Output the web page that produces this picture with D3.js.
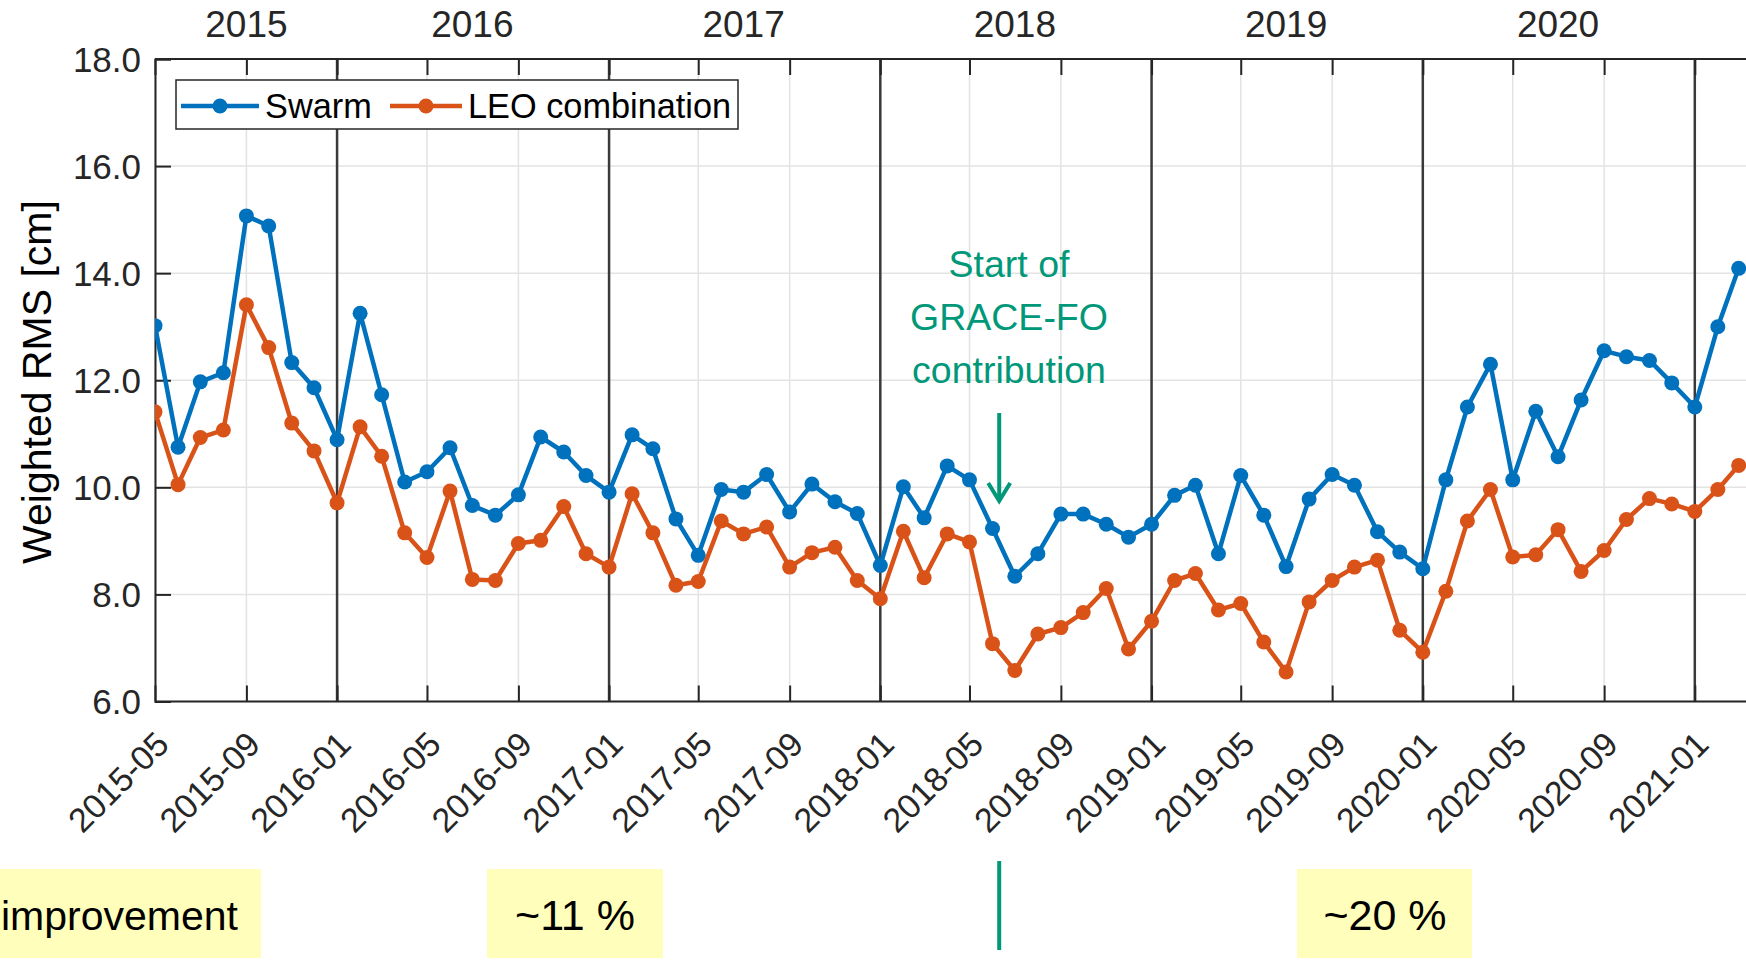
<!DOCTYPE html>
<html>
<head>
<meta charset="utf-8">
<script src="https://cdn.jsdelivr.net/npm/d3@7"></script>
<style>
  body { margin: 0; background: #fff; }
  text { font-family: "Liberation Sans", Arial, sans-serif; }
</style>
</head>
<body>
<script>
// datos (RMS ponderado en cm, un valor por mes)
var swarm = [13.02, 10.75, 11.97, 12.14, 15.07, 14.88, 12.33, 11.86,
  10.89, 13.25, 11.73, 10.10, 10.29, 10.74, 9.66, 9.48, 9.86, 10.94, 10.66, 10.22,
  9.91, 10.98, 10.72, 9.41, 8.73, 9.96, 9.91, 10.24, 9.54, 10.06, 9.73, 9.51,
  8.54, 10.01, 9.43, 10.40, 10.14, 9.23, 8.34, 8.76, 9.50, 9.50, 9.31, 9.07,
  9.31, 9.85, 10.04, 8.76, 10.22, 9.48, 8.52, 9.78, 10.24, 10.04, 9.17, 8.79,
  8.48, 10.14, 11.50, 12.30, 10.14, 11.42, 10.57, 11.63, 12.55, 12.44, 12.37, 11.95,
  11.50, 13.00, 14.09]

var leo = [11.41, 10.05, 10.93, 11.07, 13.41, 12.61, 11.20, 10.68,
  9.71, 11.13, 10.58, 9.15, 8.69, 9.93, 8.28, 8.26, 8.95, 9.01, 9.64, 8.76,
  8.51, 9.88, 9.15, 8.17, 8.24, 9.37, 9.13, 9.26, 8.51, 8.78, 8.88, 8.26,
  7.92, 9.18, 8.31, 9.13, 8.98, 7.08, 6.58, 7.26, 7.38, 7.66, 8.11, 6.98,
  7.50, 8.26, 8.39, 7.71, 7.83, 7.11, 6.55, 7.86, 8.26, 8.51, 8.64, 7.33,
  6.92, 8.06, 9.37, 9.96, 8.70, 8.74, 9.21, 8.43, 8.82, 9.40, 9.79, 9.69,
  9.55, 9.96, 10.41]

var meses = d3.timeMonth.range(new Date(2015, 4, 1), new Date(2021, 3, 1))
var yTicks = [6, 8, 10, 12, 14, 16, 18]
var anios = ["2015", "2016", "2017", "2018", "2019", "2020"]
var aniosPos = [new Date(2015, 8, 1), new Date(2016, 6, 1), new Date(2017, 6, 1),
  new Date(2018, 6, 1), new Date(2019, 6, 1), new Date(2020, 6, 1)]
var series = [
  {nombre: "Swarm", valores: swarm, color: "#0072BD"},
  {nombre: "LEO combination", valores: leo, color: "#D95319"}
]
var notaGrace = ["Start of", "GRACE-FO", "contribution"]
var fechaGrace = new Date(2018, 5, 10)
var cajas = [
  {texto: "improvement", x0: -10, x1: 261, ancla: "start", tx: 1, fs: 41},
  {texto: "~11 %", x0: 487, x1: 663, ancla: "middle", tx: 575, fs: 43},
  {texto: "~20 %", x0: 1297, x1: 1472, ancla: "middle", tx: 1385, fs: 43}
]

var width = 1746
var height = 961
var margin = {top: 59, bottom: 701.5, left: 155, right: 1746}
var verdeAnot = "#009879"
var ejeColor = "#262626"

var escalaX = d3.scaleTime()
  .domain([new Date(2015, 4, 1), new Date(2021, 0, 1)])
  .range([margin.left, 1694.8])

var escalaY = d3.scaleLinear()
  .domain([6, 18])
  .range([margin.bottom, margin.top])

var svg = d3.select("body").append("svg")
  .attr("width", width)
  .attr("height", height)

svg.append("clipPath").attr("id", "clip")
  .append("rect")
  .attr("x", margin.left).attr("y", margin.top - 10)
  .attr("width", width - margin.left + 20)
  .attr("height", margin.bottom - margin.top + 20)

var finX = escalaX.invert(width + 5)
var ticksMes = d3.timeMonth.every(4).range(new Date(2015, 4, 1), finX)
var lineasAnio = d3.timeYear.range(new Date(2015, 4, 1), finX)

// rejilla
var rejilla = svg.append("g")
rejilla.selectAll(".gv").data(ticksMes).enter().append("line")
  .attr("x1", d => escalaX(d)).attr("x2", d => escalaX(d))
  .attr("y1", margin.top).attr("y2", margin.bottom)
  .attr("stroke", "#e3e3e3").attr("stroke-width", 1.5)
rejilla.selectAll(".gh").data(yTicks).enter().append("line")
  .attr("x1", margin.left).attr("x2", width)
  .attr("y1", d => escalaY(d)).attr("y2", d => escalaY(d))
  .attr("stroke", "#e3e3e3").attr("stroke-width", 1.5)

// lineas de año
svg.append("g").selectAll("line").data(lineasAnio).enter().append("line")
  .attr("x1", d => escalaX(d)).attr("x2", d => escalaX(d))
  .attr("y1", margin.top).attr("y2", margin.bottom)
  .attr("stroke", "#3a3a3a").attr("stroke-width", 2.5)

// eje Y
var ejeY = d3.axisRight(escalaY).tickValues(yTicks).tickFormat(d3.format(".1f")).tickSize(16)
var gY = svg.append("g")
  .attr("transform", "translate(" + margin.left + ",0)")
  .call(ejeY)
gY.selectAll("text").remove()
gY.selectAll("line").attr("stroke", ejeColor).attr("stroke-width", 2)
gY.select(".domain").attr("stroke", ejeColor).attr("stroke-width", 2)
svg.append("g").selectAll("text").data(yTicks).enter().append("text")
  .attr("x", 141).attr("y", d => escalaY(d) + 12.5)
  .attr("text-anchor", "end")
  .attr("font-size", 35).attr("fill", ejeColor)
  .text(d => d3.format(".1f")(d))

// eje X abajo
var ejeX = d3.axisTop(escalaX).tickValues(ticksMes).tickSize(16).tickFormat("")
var gX = svg.append("g")
  .attr("transform", "translate(0," + margin.bottom + ")")
  .call(ejeX)
gX.select(".domain").remove()
gX.selectAll("line").attr("stroke", ejeColor).attr("stroke-width", 2)
svg.append("line")
  .attr("x1", margin.left).attr("x2", width)
  .attr("y1", margin.bottom).attr("y2", margin.bottom)
  .attr("stroke", ejeColor).attr("stroke-width", 2)

svg.append("g").selectAll("text")
  .data(ticksMes.filter(d => escalaX(d) < width - 20))
  .enter().append("text")
  .attr("transform", d => "translate(" + (escalaX(d) - 1) + "," + (margin.bottom + 28) + ") rotate(-45)")
  .attr("text-anchor", "end")
  .attr("dy", "0.7em")
  .attr("font-size", 34).attr("fill", ejeColor)
  .text(d => d3.timeFormat("%Y-%m")(d))

// eje X arriba
var ejeTop = d3.axisBottom(escalaX).tickValues(ticksMes).tickSize(16).tickFormat("")
var gT = svg.append("g")
  .attr("transform", "translate(0," + margin.top + ")")
  .call(ejeTop)
gT.select(".domain").remove()
gT.selectAll("line").attr("stroke", ejeColor).attr("stroke-width", 2)
svg.append("line")
  .attr("x1", margin.left).attr("x2", width)
  .attr("y1", margin.top).attr("y2", margin.top)
  .attr("stroke", ejeColor).attr("stroke-width", 2)

svg.append("g").selectAll("text").data(anios).enter().append("text")
  .attr("x", (d, i) => escalaX(aniosPos[i]))
  .attr("y", 37)
  .attr("text-anchor", "middle")
  .attr("font-size", 37).attr("fill", ejeColor)
  .text(d => d)

// titulo eje Y
svg.append("text")
  .attr("transform", "translate(51,382) rotate(-90)")
  .attr("text-anchor", "middle")
  .attr("font-size", 41).attr("fill", "#000")
  .text("Weighted RMS [cm]")

// series
var linea = d3.line()
  .x((d, i) => escalaX(meses[i]))
  .y(d => escalaY(d))

var gS = svg.append("g").attr("clip-path", "url(#clip)")
series.forEach(function(s) {
  gS.append("path")
    .attr("d", linea(s.valores))
    .attr("fill", "none")
    .attr("stroke", s.color)
    .attr("stroke-width", 4.5)
    .attr("stroke-linejoin", "round")
  gS.selectAll(null).data(s.valores).enter().append("circle")
    .attr("cx", (d, i) => escalaX(meses[i]))
    .attr("cy", d => escalaY(d))
    .attr("r", 7.5)
    .attr("fill", s.color)
})

// leyenda
var leyenda = svg.append("g")
leyenda.append("rect")
  .attr("x", 176).attr("y", 80).attr("width", 562).attr("height", 49)
  .attr("fill", "#fff").attr("stroke", ejeColor).attr("stroke-width", 1.5)
var legX = [{l0: 181, l1: 259, tx: 265}, {l0: 390, l1: 462, tx: 468}]
series.forEach(function(s, i) {
  var p = legX[i]
  leyenda.append("line")
    .attr("x1", p.l0).attr("x2", p.l1).attr("y1", 106).attr("y2", 106)
    .attr("stroke", s.color).attr("stroke-width", 4.5)
  leyenda.append("circle")
    .attr("cx", (p.l0 + p.l1) / 2).attr("cy", 106).attr("r", 7.5)
    .attr("fill", s.color)
  leyenda.append("text")
    .attr("x", p.tx).attr("y", 118)
    .attr("font-size", 34.3).attr("fill", "#000")
    .text(s.nombre)
})

// anotacion GRACE-FO
var xg = escalaX(fechaGrace)
svg.append("g").selectAll("text").data(notaGrace).enter().append("text")
  .attr("x", 1009).attr("y", (d, i) => 277 + i * 53)
  .attr("text-anchor", "middle")
  .attr("font-size", 37.5).attr("fill", verdeAnot)
  .text(d => d)
svg.append("line")
  .attr("x1", xg).attr("x2", xg).attr("y1", 413).attr("y2", 500)
  .attr("stroke", verdeAnot).attr("stroke-width", 4)
svg.append("path")
  .attr("d", "M" + (xg - 11) + ",483 L" + xg + ",501 L" + (xg + 11) + ",483")
  .attr("fill", "none").attr("stroke", verdeAnot).attr("stroke-width", 4)

// cajas amarillas de abajo
var gC = svg.append("g")
cajas.forEach(function(c) {
  gC.append("rect")
    .attr("x", c.x0).attr("y", 869).attr("width", c.x1 - c.x0).attr("height", 89)
    .attr("fill", "#FFFFBB")
  gC.append("text")
    .attr("x", c.tx).attr("y", 930)
    .attr("text-anchor", c.ancla)
    .attr("font-size", c.fs).attr("fill", "#000")
    .text(c.texto)
})
svg.append("line")
  .attr("x1", xg).attr("x2", xg).attr("y1", 861).attr("y2", 950)
  .attr("stroke", verdeAnot).attr("stroke-width", 4)
</script>
</body>
</html>
